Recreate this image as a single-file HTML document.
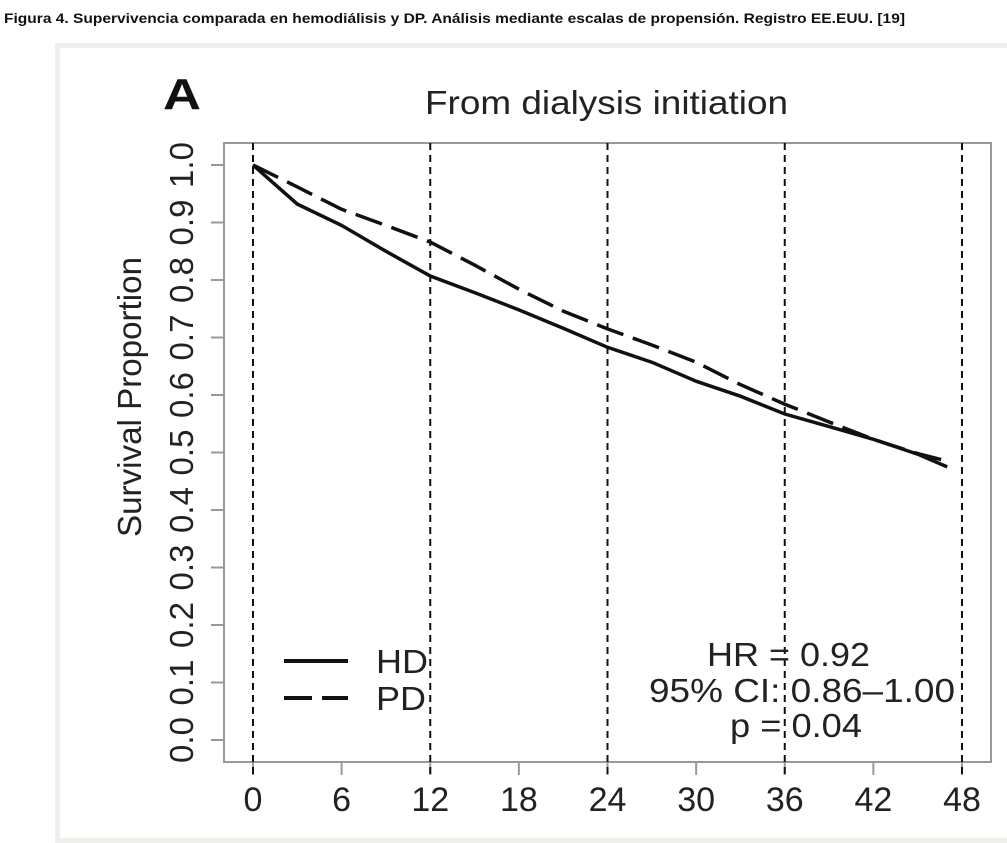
<!DOCTYPE html>
<html><head><meta charset="utf-8"><style>
body{margin:0;background:#fff;width:1007px;height:833px;overflow:hidden;font-family:"Liberation Sans",Arial,sans-serif}
#frame{position:absolute;left:55px;top:43px;width:960px;height:800px;border:5px solid #eeeeea;box-sizing:border-box;background:#fff}
svg{position:absolute;left:0;top:0}
</style></head><body>
<div id="frame"></div>
<svg width="1007" height="833" font-family="Liberation Sans, Arial, sans-serif">
<text x="4" y="23" font-size="14" font-weight="bold" fill="#111" textLength="901" lengthAdjust="spacingAndGlyphs">Figura 4. Supervivencia comparada en hemodiálisis y DP. Análisis mediante escalas de propensión. Registro EE.EUU. [19]</text>
<rect x="224" y="143" width="767" height="619" fill="none" stroke="#999" stroke-width="2"/>
<text x="163" y="109" font-size="44" font-weight="bold" fill="#111" textLength="38" lengthAdjust="spacingAndGlyphs">A</text>
<text x="425" y="114" font-size="33" fill="#222" textLength="363" lengthAdjust="spacingAndGlyphs">From dialysis initiation</text>
<text transform="translate(141,537) rotate(-90)" font-size="33" fill="#222" textLength="280" lengthAdjust="spacingAndGlyphs">Survival Proportion</text>
<g id="axes"></g><g id="series"></g>
<g>
<line x1="284" y1="661" x2="348" y2="661" stroke="#111" stroke-width="4"/>
<line x1="284" y1="698" x2="348" y2="698" stroke="#111" stroke-width="4" stroke-dasharray="28,10"/>
<text x="376" y="673" font-size="33" fill="#222" textLength="52" lengthAdjust="spacingAndGlyphs">HD</text>
<text x="376" y="710" font-size="33" fill="#222" textLength="50" lengthAdjust="spacingAndGlyphs">PD</text>
</g>
<g font-size="33" fill="#222">
<text x="707" y="666" textLength="163" lengthAdjust="spacingAndGlyphs">HR = 0.92</text>
<text x="649" y="702" textLength="306" lengthAdjust="spacingAndGlyphs">95% CI: 0.86–1.00</text>
<text x="730" y="737" textLength="132" lengthAdjust="spacingAndGlyphs">p = 0.04</text>
</g>
</svg>
<script>
const xTicks=[0,6,12,18,24,30,36,42,48];
const yTicks=[0,0.1,0.2,0.3,0.4,0.5,0.6,0.7,0.8,0.9,1.0];
const vLines=[0,12,24,36,48];
const months=[0,3,6,9,12,15,18,21,24,27,30,33,36,39,42,45,47];
const hd=[1.0,0.932,0.895,0.85,0.807,0.778,0.748,0.716,0.683,0.657,0.624,0.598,0.567,0.545,0.523,0.497,0.475];
const pd=[1.0,0.962,0.923,0.895,0.866,0.826,0.784,0.746,0.715,0.687,0.657,0.618,0.584,0.553,0.523,0.498,0.485];
const X=m=>253+m*(962-253)/48, Y=v=>740-v*575;
const NS='http://www.w3.org/2000/svg';
const ax=document.getElementById('axes'), se=document.getElementById('series');
function mk(p,t,a){const e=document.createElementNS(NS,t);for(const k in a)e.setAttribute(k,a[k]);p.appendChild(e);return e;}
xTicks.forEach(t=>{
 const l=mk(ax,'line',{x1:X(t),x2:X(t),y1:762,y2:775,stroke:'#999','stroke-width':2});
 
 
 const tx=mk(ax,'text',{x:X(t),y:811,'font-size':34,'text-anchor':'middle',fill:'#222'});tx.textContent=t;
 
 
});
yTicks.forEach(v=>{
 const l=mk(ax,'line',{x1:211,x2:224,y1:Y(v),y2:Y(v),stroke:'#999','stroke-width':2});
 
 
 const tx=mk(ax,'text',{transform:`translate(193,${Y(v)}) rotate(-90)`,'font-size':33,'text-anchor':'middle',fill:'#222'});tx.textContent=v.toFixed(1);
 
 
});
vLines.forEach(t=>{
 const l=mk(ax,'line',{x1:X(t),x2:X(t),y1:143,y2:775,stroke:'#111','stroke-width':2,'stroke-dasharray':'7,5'});
 
 
});
function path(vals){return vals.map((v,i)=>(i?'L':'M')+X(months[i]).toFixed(1)+','+Y(v).toFixed(1)).join('');}
const p1=mk(se,'path',{d:path(hd),fill:'none',stroke:'#111','stroke-width':3.5});


const p2=mk(se,'path',{d:path(pd),fill:'none',stroke:'#111','stroke-width':3.5,'stroke-dasharray':'28,10'});


</script>
</body></html>
